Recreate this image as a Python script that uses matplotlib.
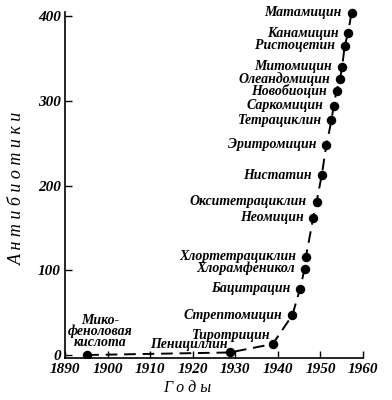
import matplotlib
matplotlib.use("Agg")
import matplotlib.pyplot as plt

# year of discovery vs cumulative number of antibiotics
years = [1895.2, 1928.7, 1938.8, 1943.4, 1945.2, 1946.3, 1946.6, 1948.3, 1949.1,
         1950.3, 1951.4, 1952.6, 1953.1, 1953.8, 1954.6, 1955.1, 1955.7, 1956.5, 1957.3]
counts = [0, 3, 13, 47, 78, 102, 116, 162, 181,
          212, 248, 277, 294, 312, 326, 340, 365, 380, 404]
names = ["Мико-\nфеноловая\nкислота", "Пенициллин", "Тиротрицин", "Стрептомицин",
         "Бацитрацин", "Хлорамфеникол", "Хлортетрациклин", "Неомицин",
         "Окситетрациклин", "Нистатин", "Эритромицин", "Тетрациклин", "Саркомицин",
         "Новобиоцин", "Олеандомицин", "Митомицин", "Ристоцетин", "Канамицин",
         "Матамицин"]

xticks = [1890, 1900, 1910, 1920, 1930, 1940, 1950, 1960]
yticks = [0, 100, 200, 300, 400]

font = dict(family="Liberation Serif", style="italic", weight="bold")

fig = plt.figure(figsize=(3.92, 4.0), dpi=100)
ax = fig.add_axes([0.166, 0.104, 0.76, 0.877])

ax.plot(years, counts, color="black", linestyle=(0, (6, 3.5)), linewidth=1.4)
ax.plot(years, counts, "o", color="black", markersize=5.8)

for x, y, name in zip(years, counts, names):
    if name.startswith("Мико"):
        ax.annotate(name, (x, y), xytext=(-14, 4), textcoords="offset points",
                    ha="left", va="bottom", multialignment="center",
                    linespacing=0.8, fontsize=10, **font)
    elif name in ("Пенициллин", "Тиротрицин"):
        ax.annotate(name, (x, y), xytext=(-1.5, 6), textcoords="offset points",
                    ha="right", va="center", fontsize=10, **font)
    else:
        ax.annotate(name, (x, y), xytext=(-7, 0), textcoords="offset points",
                    ha="right", va="center", fontsize=10, **font)

ax.set_xlim(1890, 1960)
ax.set_ylim(-4, 410)
ax.set_xticks(xticks)
ax.set_yticks(yticks)
ax.set_xticklabels([str(t) for t in xticks], fontsize=11, **font)
ax.set_yticklabels([str(t) for t in yticks], fontsize=11, **font)
ax.tick_params(direction="in", length=5, width=1, pad=3)

for side in ("top", "right"):
    ax.spines[side].set_visible(False)
for side in ("left", "bottom"):
    ax.spines[side].set_linewidth(1.2)
ax.spines["left"].set_bounds(-4, 405)

fig.text(0.045, 0.53, "А н т и б и о т и к и", rotation=90, ha="center", va="center",
         fontsize=13, family="Liberation Serif", style="italic")
fig.text(0.477, 0.03, "Г о д ы", ha="center", va="center",
         fontsize=11.5, family="Liberation Serif", style="italic")

fig.savefig("out.png", dpi=100)
